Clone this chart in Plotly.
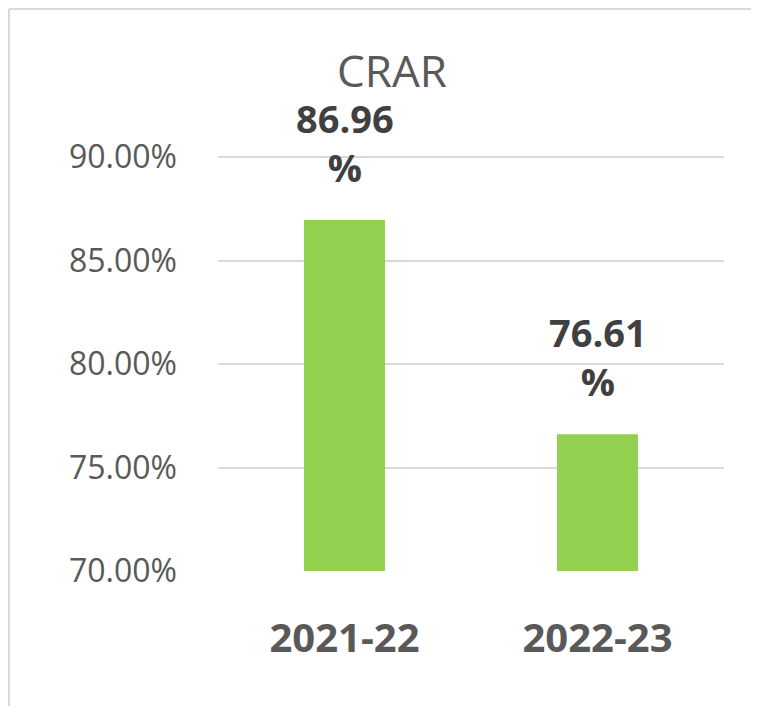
import plotly.graph_objects as go

categories = ["2021-22", "2022-23"]
values = [86.96, 76.61]
label_texts = ["86.96<br>%", "76.61<br>%"]
tick_vals = [70, 75, 80, 85, 90]
tick_text = ["70.00%", "75.00%", "80.00%", "85.00%", "90.00%"]
title_text = "CRAR"
y_range = [70, 90.1]

GRAY = "#595959"
FONT = "Open Sans"

W, H = 747, 699
ML, MR, MT, MB = 210, 31, 147, 136
PW, PH = W - ML - MR, H - MT - MB

fig = go.Figure()
fig.add_trace(go.Bar(
    x=categories, y=[v - y_range[0] for v in values], base=y_range[0],
    marker=dict(color="#92d050", line=dict(width=0)),
    width=0.32, hoverinfo="skip",
))

for c, v, t in zip(categories, values, label_texts):
    fig.add_annotation(
        x=c, y=v, xref="x", yref="y", text=t, showarrow=False,
        yanchor="bottom", yshift=25,
        font=dict(family=FONT, size=38, color="#404040", weight="bold"),
    )

# outer frame (left and top edges), kept inside the figure
fx0 = (1 - ML) / PW
fx1 = (W - 4 - ML) / PW
fy_top = (PH + MT - 1) / PH
fy_bot = -(MB - 1) / PH
fig.add_shape(type="line", xref="paper", yref="paper",
              x0=fx0, x1=fx0, y0=fy_bot, y1=fy_top,
              line=dict(color="#d9d9d9", width=2), layer="below")
fig.add_shape(type="line", xref="paper", yref="paper",
              x0=fx0, x1=fx1, y0=fy_top, y1=fy_top,
              line=dict(color="#d9d9d9", width=2), layer="below")

fig.update_layout(
    width=W, height=H,
    margin=dict(l=ML, r=MR, t=MT, b=MB, pad=0),
    paper_bgcolor="white", plot_bgcolor="white",
    showlegend=False,
    title=dict(text=title_text, x=384 / W, xref="container", xanchor="center",
               y=1 - 63.5 / H, yref="container", yanchor="middle",
               font=dict(family=FONT, size=44, color=GRAY)),
    xaxis=dict(showgrid=False, showline=False, zeroline=False,
               tickfont=dict(family=FONT, size=40, color=GRAY, weight="bold"),
               ticklabelstandoff=40),
    yaxis=dict(range=y_range, tickvals=tick_vals, ticktext=tick_text,
               showgrid=True, gridcolor="#d9d9d9", gridwidth=2,
               zeroline=False, showline=False,
               tickfont=dict(family=FONT, size=32, color=GRAY),
               ticklabelstandoff=40),
)

fig.write_html("out.html")
